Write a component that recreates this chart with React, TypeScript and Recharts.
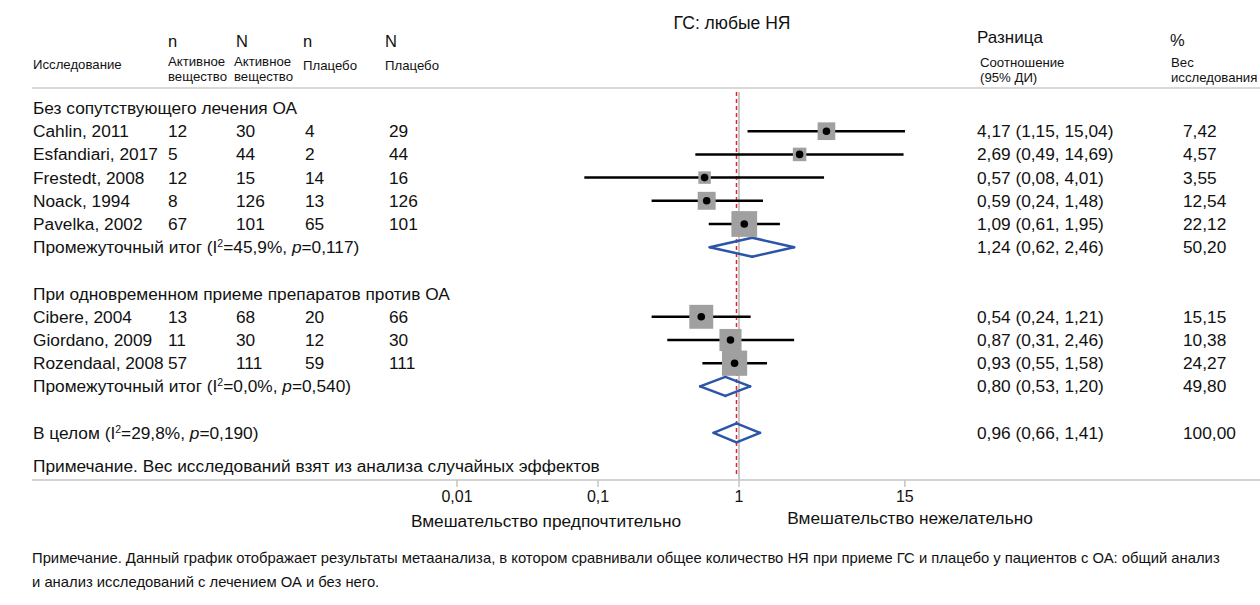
import React from 'react';
import { ComposedChart, XAxis, YAxis, Scatter, ReferenceLine } from 'recharts';

// ---------- data ----------
const groupTitles = ['Без сопутствующего лечения ОА', 'При одновременном приеме препаратов против ОА'];
const studyNames = ['Cahlin, 2011', 'Esfandiari, 2017', 'Frestedt, 2008', 'Noack, 1994', 'Pavelka, 2002', 'Cibere, 2004', 'Giordano, 2009', 'Rozendaal, 2008'];
const studyGroup = [0, 0, 0, 0, 0, 1, 1, 1];
const nActive = [12, 5, 12, 8, 67, 13, 11, 57];
const totalActive = [30, 44, 15, 126, 101, 68, 30, 111];
const nPlacebo = [4, 2, 14, 13, 65, 20, 12, 59];
const totalPlacebo = [29, 44, 16, 126, 101, 66, 30, 111];
const oddsRatio = [4.17, 2.69, 0.57, 0.59, 1.09, 0.54, 0.87, 0.93];
const ciLow = [1.15, 0.49, 0.08, 0.24, 0.61, 0.24, 0.31, 0.55];
const ciHigh = [15.04, 14.69, 4.01, 1.48, 1.95, 1.21, 2.46, 1.58];
const studyWeight = [7.42, 4.57, 3.55, 12.54, 22.12, 15.15, 10.38, 24.27];
// relative box size as drawn (largest = 1)
const boxRelSize = [0.68, 0.52, 0.48, 0.69, 0.99, 0.92, 0.85, 0.97];

const subtotalOR = [1.24, 0.8];
const subtotalLow = [0.62, 0.53];
const subtotalHigh = [2.46, 1.2];
const subtotalWeight = [50.2, 49.8];
const subtotalI2 = ['45,9%', '0,0%'];
const subtotalP = ['0,117', '0,540'];

const overallOR = 0.96;
const overallLow = 0.66;
const overallHigh = 1.41;
const overallWeight = 100;
const overallI2 = '29,8%';
const overallP = '0,190';

const axisTicks = [0.01, 0.1, 1, 15];

// ---------- layout / style ----------
const FONT = '"Liberation Sans", Arial, Helvetica, sans-serif';
const TXT = '#111';
const BODY = 17.3;
const SMALL = 13.2;
const COL = { name: 33, nA: 168, NA: 236, nP: 305, NP: 389, or: 977, w: 1183 };
const BOX_MAX = 26;
const DIAMOND_HALF = 0.41; // in row units
const X_DOMAIN: [number, number] = [Math.pow(10, -707 / 141), Math.pow(10, 521 / 141)];
const Y_DOMAIN: [number, number] = [-108 / 23.2, (480 - 108) / 23.2];

const fmt = (v: number) => v.toFixed(2).replace('.', ',');

// ---------- rows ----------
type TRow = { x: number; y: number; kind: string; idx: number };
const tableRows: TRow[] = [];
const studyPoints: { x: number; y: number; idx: number }[] = [];
const diamonds: { est: number; lo: number; hi: number; y: number }[] = [];
let r = 0;
groupTitles.forEach((_, g) => {
  tableRows.push({ x: 1, y: r, kind: 'group', idx: g });
  r++;
  studyNames.forEach((__, i) => {
    if (studyGroup[i] !== g) return;
    tableRows.push({ x: 1, y: r, kind: 'study', idx: i });
    studyPoints.push({ x: oddsRatio[i], y: r, idx: i });
    r++;
  });
  tableRows.push({ x: 1, y: r, kind: 'subtotal', idx: g });
  diamonds.push({ est: subtotalOR[g], lo: subtotalLow[g], hi: subtotalHigh[g], y: r });
  r++;
  r++;
});
tableRows.push({ x: 1, y: r, kind: 'overall', idx: 0 });
diamonds.push({ est: overallOR, lo: overallLow, hi: overallHigh, y: r });
const lastRow = r;

const T = (p: any) => (
  <text fontFamily={FONT} fill={TXT} fontSize={BODY} dy="0.35em" {...p} />
);

const StatText = ({ x, y, prefix, i2, p }: any) => (
  <text x={x} y={y} dy="0.35em" fontFamily={FONT} fill={TXT} fontSize={BODY}>
    {prefix + ' (I'}
    <tspan dy={-6} fontSize={10.5}>2</tspan>
    <tspan dy={6}>{'=' + i2 + ', '}</tspan>
    <tspan fontStyle="italic">p</tspan>
    <tspan>{'=' + p + ')'}</tspan>
  </text>
);

const TableRowShape = (props: any) => {
  const { cy, payload } = props;
  const row: TRow = payload;
  if (row.kind === 'group') {
    return <T x={COL.name} y={cy}>{groupTitles[row.idx]}</T>;
  }
  if (row.kind === 'study') {
    const i = row.idx;
    return (
      <g>
        <T x={COL.name} y={cy}>{studyNames[i]}</T>
        <T x={COL.nA} y={cy}>{nActive[i]}</T>
        <T x={COL.NA} y={cy}>{totalActive[i]}</T>
        <T x={COL.nP} y={cy}>{nPlacebo[i]}</T>
        <T x={COL.NP} y={cy}>{totalPlacebo[i]}</T>
        <T x={COL.or} y={cy}>{`${fmt(oddsRatio[i])} (${fmt(ciLow[i])}, ${fmt(ciHigh[i])})`}</T>
        <T x={COL.w} y={cy}>{fmt(studyWeight[i])}</T>
      </g>
    );
  }
  if (row.kind === 'subtotal') {
    const g = row.idx;
    return (
      <g>
        <StatText x={COL.name} y={cy} prefix="Промежуточный итог" i2={subtotalI2[g]} p={subtotalP[g]} />
        <T x={COL.or} y={cy}>{`${fmt(subtotalOR[g])} (${fmt(subtotalLow[g])}, ${fmt(subtotalHigh[g])})`}</T>
        <T x={COL.w} y={cy}>{fmt(subtotalWeight[g])}</T>
      </g>
    );
  }
  return (
    <g>
      <StatText x={COL.name} y={cy} prefix="В целом" i2={overallI2} p={overallP} />
      <T x={COL.or} y={cy}>{`${fmt(overallOR)} (${fmt(overallLow)}, ${fmt(overallHigh)})`}</T>
      <T x={COL.w} y={cy}>{fmt(overallWeight)}</T>
    </g>
  );
};

const StudyMarker = (props: any) => {
  const { cx, cy, payload } = props;
  const s = BOX_MAX * boxRelSize[payload.idx];
  return (
    <g>
      <rect x={cx - s / 2} y={cy - s / 2} width={s} height={s} fill="#a0a0a0" />
      <circle cx={cx} cy={cy} r={3.8} fill="#000" />
    </g>
  );
};

const Annotations = () => (
  <g fontFamily={FONT} fill={TXT}>
    <T x={732} y={23} fontSize={17.5} textAnchor="middle">ГС: любые НЯ</T>
    <T x={168} y={41} fontSize={16.5}>n</T>
    <T x={236} y={41} fontSize={16.5}>N</T>
    <T x={303} y={41} fontSize={16.5}>n</T>
    <T x={385} y={41} fontSize={16.5}>N</T>
    <T x={33} y={64} fontSize={SMALL}>Исследование</T>
    <T x={168} y={61} fontSize={SMALL}>Активное</T>
    <T x={168} y={76} fontSize={SMALL}>вещество</T>
    <T x={234} y={61} fontSize={SMALL}>Активное</T>
    <T x={234} y={76} fontSize={SMALL}>вещество</T>
    <T x={303} y={65} fontSize={SMALL}>Плацебо</T>
    <T x={385} y={65} fontSize={SMALL}>Плацебо</T>
    <T x={977} y={37} fontSize={17}>Разница</T>
    <T x={1170} y={40} fontSize={16.5}>%</T>
    <T x={980} y={62} fontSize={SMALL}>Соотношение</T>
    <T x={980} y={77} fontSize={SMALL}>(95% ДИ)</T>
    <T x={1171} y={62} fontSize={SMALL}>Вес</T>
    <T x={1171} y={77} fontSize={SMALL}>исследования</T>
    <T x={33} y={466}>Примечание. Вес исследований взят из анализа случайных эффектов</T>
    <T x={546} y={521} textAnchor="middle">Вмешательство предпочтительно</T>
    <T x={910} y={518} textAnchor="middle">Вмешательство нежелательно</T>
    <T x={32} y={558} fontSize={14.8}>
      Примечание. Данный график отображает результаты метаанализа, в котором сравнивали общее количество НЯ при приеме ГС и плацебо у пациентов с ОА: общий анализ
    </T>
    <T x={32} y={582} fontSize={14.8}>и анализ исследований с лечением ОА и без него.</T>
  </g>
);

export default function App() {
  return (
    <div style={{ position: 'absolute', left: 0, top: 0, width: 1260, height: 605, background: '#fff' }}>
      <ComposedChart width={1260} height={605} margin={{ top: 0, right: 0, bottom: 85, left: 32 }} style={{ fontFamily: FONT }}>
        <XAxis
          dataKey="x"
          type="number"
          scale="log"
          domain={X_DOMAIN}
          allowDataOverflow={false}
          ticks={axisTicks}
          tickFormatter={(v: number) => String(v).replace('.', ',')}
          height={40}
          stroke="#c4c4c4"
          strokeWidth={1.5}
          tickSize={7}
          tickMargin={4}
          tick={{ fill: TXT, fontSize: 16, fontFamily: FONT }}
          interval={0}
        />
        <YAxis dataKey="y" type="number" domain={Y_DOMAIN} reversed hide width={0} />
        <ReferenceLine y={-20 / 23.2} stroke="#cccccc" strokeWidth={1.5} />
        <ReferenceLine
          segment={[{ x: 1, y: -0.69 }, { x: 1, y: Y_DOMAIN[1] }]}
          stroke="#b4b4b4"
          strokeWidth={1.5}
        />
        <ReferenceLine
          segment={[{ x: overallOR, y: -0.69 }, { x: overallOR, y: lastRow + 1.9 }]}
          stroke="#e3232c"
          strokeWidth={1.5}
          strokeDasharray="4 3"
        />
        {studyPoints.map((p) => (
          <ReferenceLine
            key={'ci' + p.idx}
            segment={[{ x: ciLow[p.idx], y: p.y }, { x: ciHigh[p.idx], y: p.y }]}
            stroke="#000"
            strokeWidth={2.5}
          />
        ))}
        {diamonds.flatMap((d, k) => [
          [{ x: d.lo, y: d.y }, { x: d.est, y: d.y - DIAMOND_HALF }],
          [{ x: d.est, y: d.y - DIAMOND_HALF }, { x: d.hi, y: d.y }],
          [{ x: d.hi, y: d.y }, { x: d.est, y: d.y + DIAMOND_HALF }],
          [{ x: d.est, y: d.y + DIAMOND_HALF }, { x: d.lo, y: d.y }],
        ].map((seg, j) => (
          <ReferenceLine
            key={'dm' + k + '-' + j}
            segment={seg as any}
            stroke="#2b55a6"
            strokeWidth={2.5}
            strokeLinecap="round"
          />
        )))}
        <Scatter data={studyPoints} shape={StudyMarker} isAnimationActive={false} />
        <Scatter data={tableRows} shape={TableRowShape} isAnimationActive={false} />
        <Scatter data={[{ x: 1, y: 0 }]} shape={Annotations} isAnimationActive={false} />
      </ComposedChart>
    </div>
  );
}
